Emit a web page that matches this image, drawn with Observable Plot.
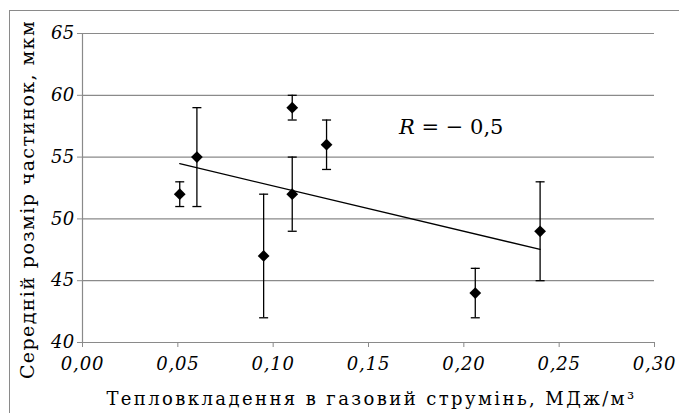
<!DOCTYPE html>
<html>
<head>
<meta charset="utf-8">
<script src="https://cdn.jsdelivr.net/npm/d3@7"></script>
<script src="https://cdn.jsdelivr.net/npm/@observablehq/plot@0.6"></script>
<style>
  html, body { margin: 0; padding: 0; background: #fff; }
  #wrap { position: relative; width: 679px; height: 413px; overflow: hidden; }
  #frame { position: absolute; left: 9px; top: 10px; width: 700px; height: 420px;
           border-left: 1.5px solid #8a8a8a; border-top: 1.5px solid #8a8a8a; }
  #wrap svg { position: absolute; left: 0; top: 0; }
  #wrap svg, #wrap svg text { font-family: "DejaVu Serif", "Liberation Serif", serif !important; }
  g[aria-label="y-axis tick label"] text { font-style: italic; letter-spacing: 0.3px; }
  g[aria-label="x-axis tick label"] text { font-style: italic; letter-spacing: 0.8px; }
  text.xtitle { letter-spacing: 2.4px; }
  text.ytitle { letter-spacing: 1.4px; }
</style>
</head>
<body>
<div id="wrap"><div id="frame"></div></div>
<script>
// Data
const heatInput = [0.051, 0.060, 0.095, 0.110, 0.110, 0.128, 0.206, 0.240];   // МДж/м³
const particleSize = [52, 55, 47, 59, 52, 56, 44, 49];                        // мкм
const errLow = [51, 51, 42, 58, 49, 54, 42, 45];
const errHigh = [53, 59, 52, 60, 55, 58, 46, 53];
const xTicks = [0, 0.05, 0.10, 0.15, 0.20, 0.25, 0.30];
const yTicks = [40, 45, 50, 55, 60, 65];
const xTitle = "Тепловкладення в газовий струмінь, МДж/м³";
const yTitle = "Середній розмір частинок, мкм";
const corrLabel = "R = − 0,5";
const corrPos = [{x: 0.166, y: 57.4}];

const data = heatInput.map((x, i) => ({x, y: particleSize[i], lo: errLow[i], hi: errHigh[i]}));
const comma = (d, n) => d.toFixed(n).replace(".", ",");

const capSymbol = {
  draw(context, size) {
    context.moveTo(-4.5, 0);
    context.lineTo(4.5, 0);
  }
};

const plot = Plot.plot({
  width: 679,
  height: 413,
  marginLeft: 82,
  marginRight: 25,
  marginTop: 33,
  marginBottom: 71,
  style: {fontFamily: "'DejaVu Serif', serif", fontSize: "17px", background: "transparent", color: "#000"},
  x: {domain: [0, 0.3]},
  y: {domain: [40, 65]},
  marks: [
    Plot.gridY(yTicks, {stroke: "#8a8a8a", strokeOpacity: 1, strokeWidth: 1.2}),
    Plot.ruleX([0], {stroke: "#8a8a8a", strokeWidth: 1.2}),
    Plot.ruleY([40], {stroke: "#8a8a8a", strokeWidth: 1.2}),
    Plot.axisY(yTicks, {tickFormat: d => String(d), tickSize: 5, tickPadding: 3, stroke: "#8a8a8a",
      fontSize: 18, fontStyle: "italic", label: null}),
    Plot.axisX(xTicks, {tickFormat: d => comma(d, 2), tickSize: 5, tickPadding: 10, stroke: "#8a8a8a",
      fontSize: 18, fontStyle: "italic", label: null}),
    Plot.ruleX(data, {x: "x", y1: "lo", y2: "hi", stroke: "#000", strokeWidth: 1.3}),
    Plot.dot(data, {x: "x", y: "lo", symbol: capSymbol, stroke: "#000", strokeWidth: 1.3, r: 4}),
    Plot.dot(data, {x: "x", y: "hi", symbol: capSymbol, stroke: "#000", strokeWidth: 1.3, r: 4}),
    Plot.linearRegressionY(data, {x: "x", y: "y", ci: 0, stroke: "#000", strokeWidth: 1.3}),
    Plot.dot(data, {x: "x", y: "y", symbol: "diamond2", fill: "#000", stroke: "none", r: 5.3}),
    Plot.text(corrPos, {x: "x", y: "y", text: () => corrLabel, textAnchor: "start", fontSize: 21}),
    Plot.text([xTitle], {frameAnchor: "bottom", text: d => d, textAnchor: "middle", dx: 3, dy: 62, lineAnchor: "bottom", fontSize: 18}),
    Plot.text([yTitle], {frameAnchor: "left", text: d => d, textAnchor: "middle", rotate: -90, dx: -49, dy: 11.5, lineAnchor: "bottom", fontSize: 19})
  ]
});

document.getElementById("wrap").appendChild(plot);

// styling hooks: italic R in the correlation label, classes for spacing
d3.select(plot).selectAll("text").each(function() {
  const t = d3.select(this);
  const s = this.textContent;
  if (s === corrLabel) {
    t.text(null);
    t.append("tspan").attr("font-style", "italic").text("R");
    t.append("tspan").text(corrLabel.slice(1));
  } else if (s === xTitle) {
    t.classed("xtitle", true);
  } else if (s === yTitle) {
    t.classed("ytitle", true);
  }
});
</script>
</body>
</html>
